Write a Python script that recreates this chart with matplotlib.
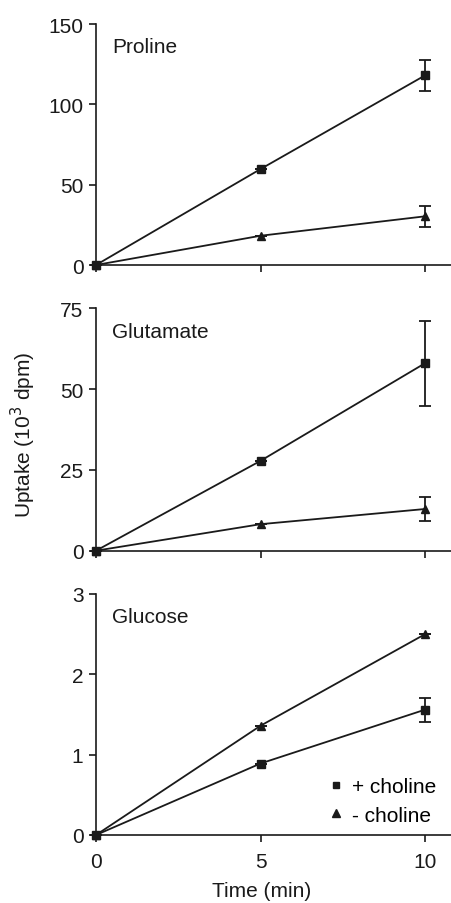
import matplotlib
matplotlib.use("Agg")
import matplotlib.pyplot as plt
from matplotlib.lines import Line2D

plt.rcParams['font.family'] = ['Liberation Sans', 'DejaVu Sans']

time = [0, 5, 10]

panels = ["Proline", "Glutamate", "Glucose"]
plus_choline = [[0, 59.7, 118.0], [0, 27.8, 58.0], [0, 0.89, 1.56]]
plus_err = [[0, 0, 9.5], [0, 0, 13.1], [0, 0, 0.15]]
minus_choline = [[0, 18.2, 30.3], [0, 8.2, 12.9], [0, 1.36, 2.50]]
minus_err = [[0, 0, 6.7], [0, 0, 3.8], [0, 0, 0]]
ymax = [150, 75, 3]
yticks = [[0, 50, 100, 150], [0, 25, 50, 75], [0, 1, 2, 3]]
xticks = [0, 5, 10]

fig = plt.figure(figsize=(4.52, 9.04), dpi=100)
left = 96 / 452
width = 1 - left
rects = [(266, 241), (551.7, 242.4), (836, 241)]
fs = 15

axes = []
for i in range(3):
    b, h = rects[i]
    ax = fig.add_axes([left, 1 - b / 904, width, h / 904])
    axes.append(ax)
    ax.errorbar(time, plus_choline[i], yerr=plus_err[i], color='#1a1a1a', lw=1.3,
                marker='s', ms=5.5, capsize=4, capthick=1.3, elinewidth=1.3,
                clip_on=False, zorder=3)
    ax.errorbar(time, minus_choline[i], yerr=minus_err[i], color='#1a1a1a', lw=1.3,
                marker='^', ms=6, capsize=4, capthick=1.3, elinewidth=1.3,
                clip_on=False, zorder=3)
    ax.set_xlim(0, 10.82)
    ax.set_ylim(0, ymax[i])
    ax.set_yticks(yticks[i])
    ax.set_xticks(xticks)
    for s in ['top', 'right']:
        ax.spines[s].set_visible(False)
    for s in ['left', 'bottom']:
        ax.spines[s].set_linewidth(1.2)
        ax.spines[s].set_color('#1a1a1a')
    ax.tick_params(direction='out', length=5, width=1.2, labelsize=fs,
                   colors='#1a1a1a')
    ax.tick_params(axis='y', pad=4)
    ax.tick_params(axis='x', pad=7)
    if i < 2:
        ax.tick_params(axis='x', labelbottom=False)
    ax.text(0.045, 0.905, panels[i], transform=ax.transAxes, fontsize=fs,
            color='#1a1a1a', va='center', ha='left')

handles = [Line2D([], [], ls='none', marker='s', ms=5, color='#1a1a1a'),
           Line2D([], [], ls='none', marker='^', ms=6, color='#1a1a1a')]
axes[2].legend(handles, ['+ choline', '- choline'], loc='lower right',
               bbox_to_anchor=(0.985, 0.0), frameon=False, fontsize=fs,
               handlelength=0.6, handletextpad=0.45, labelspacing=0.45,
               borderpad=0)

fig.text(262 / 452, 1 - 892 / 904, 'Time (min)', fontsize=fs, color='#1a1a1a',
         va='center', ha='center')
fig.text(23 / 452, 1 - 435 / 904, 'Uptake (10$^{3}$ dpm)', rotation=90,
         fontsize=fs, color='#1a1a1a', va='center', ha='center')

fig.savefig('out.png', dpi=100)
